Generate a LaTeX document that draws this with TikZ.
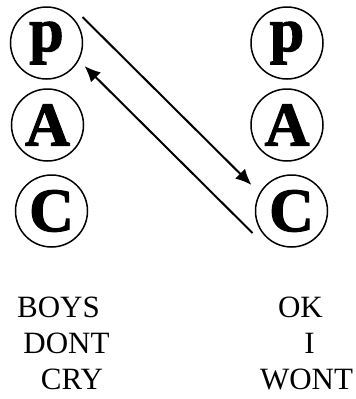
\documentclass[tikz,border=0pt]{standalone}
\usepackage{fontspec}
\setmainfont{Liberation Serif}
\newfontfamily\fatface{Liberation Serif}[BoldFeatures={FakeBold=1.8}]
\usetikzlibrary{arrows.meta}
\tikzset{
  ego/.style={draw, circle, line width=1.5pt, minimum size=72pt, inner sep=0pt, font=\fatface\bfseries\fontsize{62}{62}\selectfont},
  word/.style={anchor=base, font=\fontsize{31}{31}\selectfont, inner sep=0pt},
  arrow/.style={-{Latex[length=16pt, width=14pt]}, line width=2pt}
}
\begin{document}
\begin{tikzpicture}[x=1pt,y=-1pt]
  \useasboundingbox (0,0) rectangle (356,399);

  % ego states
  \node[ego] (pl) at (46.5,43) {p};
  \node[ego] (al) at (47.5,125) {A};
  \node[ego] (cl) at (51.5,211) {C};
  \node[ego] (pr) at (287,43) {p};
  \node[ego] (ar) at (287,125) {A};
  \node[ego] (cr) at (291.5,211) {C};

  % transactions
  \draw[arrow] ([xshift=10pt]pl.north east) -- ([xshift=-14pt]cr.north west);
  \draw[arrow] ([xshift=-13pt,yshift=4pt]cr.south west) -- ([xshift=12pt,yshift=3pt]pl.south east);

  % messages
  \node[word] (boys) at (58.5,317) {BOYS};
  \node[word] (dont) at (66.5,353) {DONT};
  \node[word] (cry) at (72,389) {CRY};
  \node[word] (ok) at (300.5,317) {OK};
  \node[word] (i) at (309.5,353) {I};
  \node[word] (wont) at (306.5,389) {WONT};
\end{tikzpicture}
\end{document}
